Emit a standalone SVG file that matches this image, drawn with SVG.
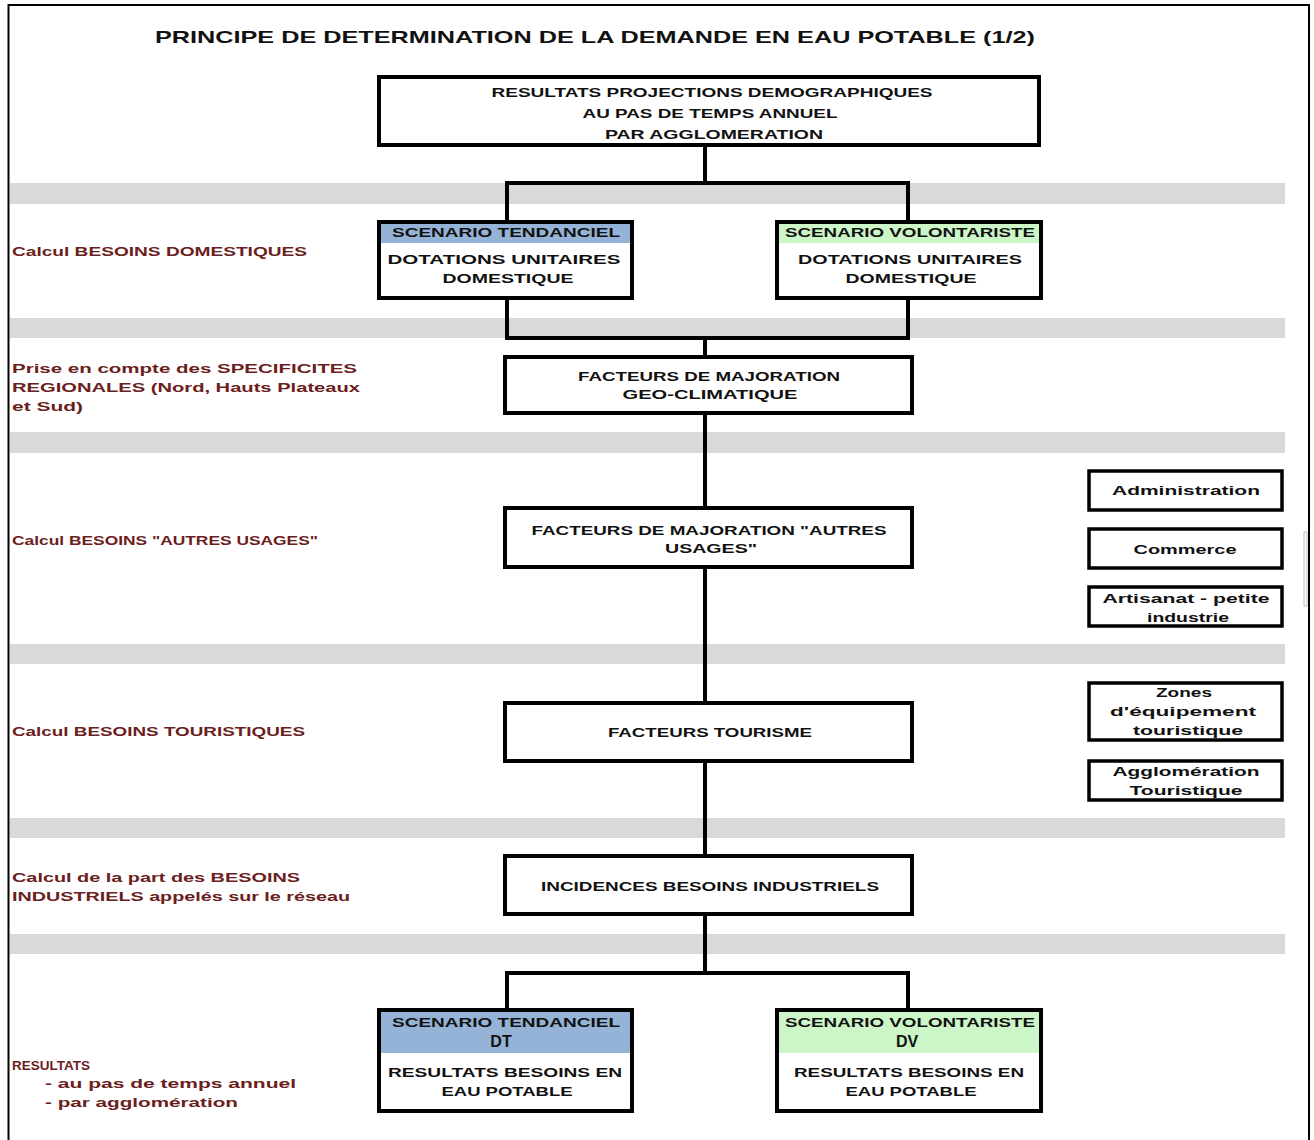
<svg xmlns="http://www.w3.org/2000/svg" width="1314" height="1140" viewBox="0 0 1314 1140">
<style>
.band{fill:#d9d9d9}
.box{fill:#fff;stroke:#000;stroke-width:4}
.sbox{fill:#fff;stroke:#000;stroke-width:3.5}
.conn{stroke:#000;stroke-width:4;fill:none}
.t{font-family:"Liberation Sans",Arial,sans-serif;font-weight:bold;font-size:12.5px;fill:#111;text-anchor:middle}
.lbl{font-family:"Liberation Sans",Arial,sans-serif;font-weight:bold;font-size:12.5px;fill:#6b2020}
.blue{fill:#95b3d7}
.green{fill:#ccf5c8}
</style>
<rect width="1314" height="1140" fill="#fff"/>
<path d="M8.5,1140 V5 H1309 V1140" fill="none" stroke="#000" stroke-width="2"/>
<text x="155" y="43" font-family="'Liberation Sans',Arial,sans-serif" font-weight="bold" font-size="17" fill="#111" textLength="880" lengthAdjust="spacingAndGlyphs">PRINCIPE DE DETERMINATION DE LA DEMANDE EN EAU POTABLE (1/2)</text>

<g id="bands">
<rect class="band" x="10" y="183" width="1275" height="21"/>
<rect class="band" x="10" y="318" width="1275" height="20"/>
<rect class="band" x="10" y="432" width="1275" height="21"/>
<rect class="band" x="10" y="644" width="1275" height="20"/>
<rect class="band" x="10" y="818" width="1275" height="20"/>
<rect class="band" x="10" y="934" width="1275" height="20"/>
</g>
<rect x="1304" y="532" width="3" height="74" fill="none" stroke="#bbb" stroke-width="1"/>

<g id="connectors">
<path class="conn" d="M705,145 V183 M507,183 H908 M507,181 V222 M908,181 V222"/>
<path class="conn" d="M507,298 V338 M908,298 V338 M505,338 H910 M705,338 V357"/>
<path class="conn" d="M705,413 V508 M705,567 V703 M705,761 V856 M705,914 V973"/>
<path class="conn" d="M505,973 H910 M507,973 V1010 M908,973 V1010"/>
</g>

<g id="n-top">
<rect class="box" x="379" y="77" width="660" height="68"/>
<text class="t" x="712" y="97" textLength="441" lengthAdjust="spacingAndGlyphs">RESULTATS PROJECTIONS DEMOGRAPHIQUES</text>
<text class="t" x="710" y="118" textLength="255" lengthAdjust="spacingAndGlyphs">AU PAS DE TEMPS ANNUEL</text>
<text class="t" x="714" y="139" textLength="218" lengthAdjust="spacingAndGlyphs">PAR AGGLOMERATION</text>
</g>

<g id="n-dom-t">
<rect class="box" x="379" y="222" width="253" height="76"/>
<rect class="blue" x="381" y="224" width="249" height="19"/>
<text class="t" x="506" y="237" textLength="228" lengthAdjust="spacingAndGlyphs">SCENARIO TENDANCIEL</text>
<text class="t" x="504" y="264" textLength="233" lengthAdjust="spacingAndGlyphs">DOTATIONS UNITAIRES</text>
<text class="t" x="508" y="283" textLength="131" lengthAdjust="spacingAndGlyphs">DOMESTIQUE</text>
</g>

<g id="n-dom-v">
<rect class="box" x="777" y="222" width="264" height="76"/>
<rect class="green" x="779" y="224" width="260" height="19"/>
<text class="t" x="910" y="237" textLength="250" lengthAdjust="spacingAndGlyphs">SCENARIO VOLONTARISTE</text>
<text class="t" x="910" y="264" textLength="224" lengthAdjust="spacingAndGlyphs">DOTATIONS UNITAIRES</text>
<text class="t" x="911" y="283" textLength="131" lengthAdjust="spacingAndGlyphs">DOMESTIQUE</text>
</g>

<g id="n-geo">
<rect class="box" x="505" y="357" width="407" height="56"/>
<text class="t" x="709" y="381" textLength="262" lengthAdjust="spacingAndGlyphs">FACTEURS DE MAJORATION</text>
<text class="t" x="710" y="399" textLength="175" lengthAdjust="spacingAndGlyphs">GEO-CLIMATIQUE</text>
</g>

<g id="n-autres">
<rect class="box" x="505" y="508" width="407" height="59"/>
<text class="t" x="709" y="535" textLength="355" lengthAdjust="spacingAndGlyphs">FACTEURS DE MAJORATION "AUTRES</text>
<text class="t" x="711" y="553" textLength="92" lengthAdjust="spacingAndGlyphs">USAGES"</text>
</g>

<g id="n-tourisme">
<rect class="box" x="505" y="703" width="407" height="58"/>
<text class="t" x="710" y="737" textLength="204" lengthAdjust="spacingAndGlyphs">FACTEURS TOURISME</text>
</g>

<g id="n-indus">
<rect class="box" x="505" y="856" width="407" height="58"/>
<text class="t" x="710" y="891" textLength="338" lengthAdjust="spacingAndGlyphs">INCIDENCES BESOINS INDUSTRIELS</text>
</g>

<g id="n-res-t">
<rect class="box" x="379" y="1010" width="253" height="101"/>
<rect class="blue" x="381" y="1012" width="249" height="41"/>
<text class="t" x="506" y="1027" textLength="228" lengthAdjust="spacingAndGlyphs">SCENARIO TENDANCIEL</text>
<text x="501" y="1047" style="font-family:'Liberation Sans',Arial,sans-serif;font-weight:bold;font-size:16px;fill:#111;text-anchor:middle">DT</text>
<text class="t" x="505" y="1077" textLength="234" lengthAdjust="spacingAndGlyphs">RESULTATS BESOINS EN</text>
<text class="t" x="507" y="1096" textLength="131" lengthAdjust="spacingAndGlyphs">EAU POTABLE</text>
</g>

<g id="n-res-v">
<rect class="box" x="777" y="1010" width="264" height="101"/>
<rect class="green" x="779" y="1012" width="260" height="41"/>
<text class="t" x="910" y="1027" textLength="250" lengthAdjust="spacingAndGlyphs">SCENARIO VOLONTARISTE</text>
<text x="907" y="1047" style="font-family:'Liberation Sans',Arial,sans-serif;font-weight:bold;font-size:16px;fill:#111;text-anchor:middle">DV</text>
<text class="t" x="909" y="1077" textLength="230" lengthAdjust="spacingAndGlyphs">RESULTATS BESOINS EN</text>
<text class="t" x="911" y="1096" textLength="131" lengthAdjust="spacingAndGlyphs">EAU POTABLE</text>
</g>

<g id="n-admin">
<rect class="sbox" x="1089" y="471" width="193" height="39"/>
<text class="t" x="1186" y="495" textLength="148" lengthAdjust="spacingAndGlyphs">Administration</text>
</g>
<g id="n-commerce">
<rect class="sbox" x="1089" y="529" width="193" height="39"/>
<text class="t" x="1185" y="554" textLength="103" lengthAdjust="spacingAndGlyphs">Commerce</text>
</g>
<g id="n-artisanat">
<rect class="sbox" x="1089" y="587" width="193" height="39"/>
<text class="t" x="1186" y="603" textLength="167" lengthAdjust="spacingAndGlyphs">Artisanat - petite</text>
<text class="t" x="1188" y="622" textLength="82" lengthAdjust="spacingAndGlyphs">industrie</text>
</g>
<g id="n-zones">
<rect class="sbox" x="1089" y="683" width="193" height="57"/>
<text class="t" x="1184" y="697" textLength="56" lengthAdjust="spacingAndGlyphs">Zones</text>
<text class="t" x="1183" y="716" textLength="146" lengthAdjust="spacingAndGlyphs">d'équipement</text>
<text class="t" x="1188" y="735" textLength="110" lengthAdjust="spacingAndGlyphs">touristique</text>
</g>
<g id="n-agglo">
<rect class="sbox" x="1089" y="761" width="193" height="39"/>
<text class="t" x="1186" y="776" textLength="147" lengthAdjust="spacingAndGlyphs">Agglomération</text>
<text class="t" x="1186" y="795" textLength="113" lengthAdjust="spacingAndGlyphs">Touristique</text>
</g>

<g id="labels">
<text class="lbl" x="12" y="256" textLength="295" lengthAdjust="spacingAndGlyphs">Calcul BESOINS DOMESTIQUES</text>
<text class="lbl" x="12" y="373" textLength="345" lengthAdjust="spacingAndGlyphs">Prise en compte des SPECIFICITES</text>
<text class="lbl" x="12" y="392" textLength="348" lengthAdjust="spacingAndGlyphs">REGIONALES (Nord, Hauts Plateaux</text>
<text class="lbl" x="12" y="411" textLength="71" lengthAdjust="spacingAndGlyphs">et Sud)</text>
<text class="lbl" x="12" y="545" textLength="306" lengthAdjust="spacingAndGlyphs">Calcul BESOINS "AUTRES USAGES"</text>
<text class="lbl" x="12" y="736" textLength="293" lengthAdjust="spacingAndGlyphs">Calcul BESOINS TOURISTIQUES</text>
<text class="lbl" x="12" y="882" textLength="288" lengthAdjust="spacingAndGlyphs">Calcul de la part des BESOINS</text>
<text class="lbl" x="12" y="901" textLength="338" lengthAdjust="spacingAndGlyphs">INDUSTRIELS appelés sur le réseau</text>
<text class="lbl" x="12" y="1070" textLength="78" lengthAdjust="spacingAndGlyphs">RESULTATS</text>
<text class="lbl" x="45" y="1088" textLength="251" lengthAdjust="spacingAndGlyphs">- au pas de temps annuel</text>
<text class="lbl" x="45" y="1107" textLength="193" lengthAdjust="spacingAndGlyphs">- par agglomération</text>
</g>
</svg>
